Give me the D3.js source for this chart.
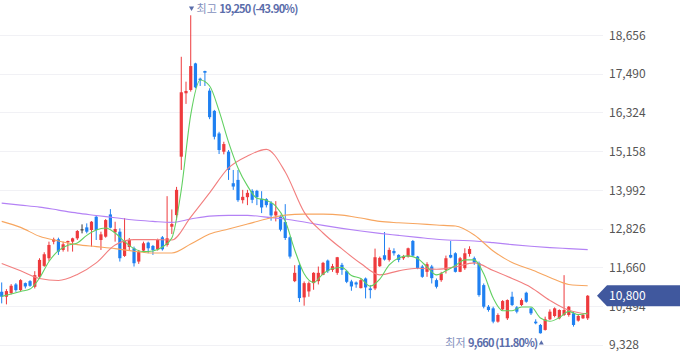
<!DOCTYPE html>
<html><head><meta charset="utf-8">
<script src="https://cdn.jsdelivr.net/npm/d3@7"></script>
<style>html,body{margin:0;padding:0;background:#fff;overflow:hidden}svg{display:block}</style>
</head><body><svg id="c" width="680" height="358"></svg>
<script>
// ---- data (daily candles, oldest -> newest) ----
const opens = [10920,10770,10880,11140,10970,11180,11240,11070,11370,11700,
11930,12430,12500,12180,12410,12430,12530,12800,12860,12780,
13180,12480,12580,13250,12710,12730,12000,12270,12230,11830,
12160,12400,12300,12200,12560,12330,12880,13230,14990,16900,
17000,17800,17340,17570,16980,16370,15690,15140,15140,14190,
14290,13680,13770,13960,13960,13720,13710,13590,13220,13190,
13020,12560,11240,11720,10750,10930,11180,11240,11430,11860,
11580,11490,11730,11540,11230,11200,11030,11320,11020,11020,
11690,12020,11880,12150,12030,11930,11980,12450,11980,11680,
11520,11680,11270,11270,11580,12030,12080,11520,11630,12060,
11930,11780,11120,10470,10420,10020,10390,10120,10770,10450,
10520,10890,10420,10020,9920,9770,10090,10190,10120,10220,
10220,10270,10050,10120,10120];
const highs = [11200,11000,11150,11180,11300,11200,11270,11540,11930,12110,
12430,12550,12550,12430,12460,12550,12780,12950,12980,13050,
13230,12730,13110,13410,13030,12830,13140,12540,12280,12180,
12430,12430,12330,12520,12600,13800,13400,14080,18000,17250,
19250,17820,17370,17580,17050,16400,15740,15440,15190,14590,
14590,13990,13990,14010,13990,13950,13740,13650,13650,13240,
13560,12590,11720,11780,11230,11230,11510,11680,11820,11890,
11760,11970,11790,11580,11280,11230,11320,11350,11120,12220,
11980,12720,12250,12230,12050,12030,12250,12480,12000,11730,
11810,11730,11320,11520,12010,12450,12110,11970,12230,12290,
11980,11830,11170,10520,10470,10270,10670,10690,10920,10490,
10720,10920,10450,10090,9950,10170,10390,10450,10390,11420,
10490,10320,10220,10250,10820];
const lows = [10570,10540,10840,10920,10940,11020,11070,11020,11320,11670,
11850,12350,12030,12130,12130,12130,12480,12680,12680,12280,
12480,12180,12550,12830,12430,11830,11970,12180,11680,11760,
12120,12080,12030,12160,12160,12280,12660,13080,14590,16580,
16950,17050,17120,17120,16120,15510,15070,15060,14290,13990,
13630,13580,13530,13590,13530,13290,13460,13060,13040,12740,
12480,11920,11210,10610,10500,10770,10980,11140,11420,11490,
11520,11430,11430,11180,10950,11040,11020,10720,10720,10970,
11670,11860,11830,12010,11810,11880,11950,11980,11600,11340,
11370,11170,11020,11220,11470,11930,11500,11510,11580,11980,
11730,10770,10420,10320,9970,9990,10370,10070,10490,10270,
10490,10590,10220,9940,9660,9750,10070,10150,10090,10190,
10170,9870,10020,10100,10070];
const closes = [10770,10940,11100,10970,11270,11080,11100,11420,11880,12050,
12330,12500,12130,12350,12450,12530,12750,12800,12730,13030,
12780,12650,13080,12850,12810,11930,12450,12480,11780,12130,
12380,12230,12180,12480,12200,12530,12960,13990,16930,16970,
17720,17080,17300,17520,16180,15590,15190,15370,14590,14090,
13680,13780,13900,13690,13770,13460,13530,13220,13340,12790,
12540,11980,11490,10730,11180,11180,11490,11490,11790,11540,
11690,11960,11580,11220,11080,11140,11270,11050,10970,11960,
11940,11890,12180,12080,11880,11980,12230,12010,11630,11370,
11750,11330,11070,11470,11930,11950,11520,11930,12080,12210,
11800,10820,10470,10370,10020,10220,10640,10670,10520,10320,
10670,10620,10270,9970,9670,10090,10320,10420,10370,10370,
10470,9920,10190,10220,10800];

// moving averages (ma5 every 2 sessions, others every 4)
const ma5Step = 2;
const ma5 = [10780,10850,10930,11000,11330,11830,12160,12320,12390,12620,
12780,12840,12690,12430,12220,12130,12150,12270,12540,13990,
16250,17300,17120,16370,15430,14650,14110,13740,13680,13500,
13050,12180,11460,11200,11460,11620,11650,11410,11320,11090,
11300,11730,11940,12000,11920,11670,11430,11550,11710,11880,
11880,11460,10730,10350,10350,10460,10460,10130,10030,10140,
10330,10230,10280];
const maStep = 4;
const ma20 = [11770,11550,11320,11260,11440,11790,12330,12490,12490,12480,
13170,13900,14650,15010,15210,14530,13320,12690,12210,11770,
11430,11550,11630,11600,11670,11790,11560,11320,11050,10660,
10360,10250];
const ma60 = [13040,12860,12590,12450,12340,12280,12220,12140,12090,12090,
12360,12660,12810,12960,13110,13230,13260,13260,13230,13140,
13040,13000,12970,12930,12900,12630,12150,11800,11590,11350,
11140,11100];
const ma120 = [13590,13530,13470,13380,13290,13220,13150,13080,13040,13010,
13110,13200,13220,13220,13170,13110,13020,12920,12830,12750,
12680,12620,12560,12500,12470,12450,12400,12340,12290,12250,
12220,12190];

const yTicks = [9328,10494,11660,12826,13992,15158,16324,17490,18656];
const lastPrice = 10800;
const highIdx = 40, highLabel = "19,250 (-43.90%)", highWord = "최고";
const lowIdx = 114, lowLabel = "9,660 (11.80%)", lowWord = "최저";

// ---- drawing ----
const svg = d3.select("#c");
const FONT = "'Noto Sans CJK KR','Noto Sans',sans-serif";
const idx = d3.range(closes.length);
const x = d3.scalePoint().domain(idx).range([1.7, 587.7]);
const y = d3.scaleLinear().domain([9328, 18656]).range([344.6, 35]);

const RED = "#ee3a3d", BLUE = "#1f80f1";

// grid
svg.append("g").selectAll("line").data(yTicks).join("line")
  .attr("x1", 0).attr("x2", 603)
  .attr("y1", d => Math.round(y(d)) + 0.5).attr("y2", d => Math.round(y(d)) + 0.5)
  .attr("stroke", "#f1f1f5").attr("stroke-width", 1);

// axis labels
const yAxis = d3.axisRight(y).tickValues(yTicks).tickSize(0).tickPadding(0)
  .tickFormat(d3.format(","));
const ag = svg.append("g").attr("transform", "translate(609,0)").call(yAxis);
ag.select(".domain").remove();
ag.selectAll("text").attr("font-family", FONT).attr("font-size", 12)
  .attr("fill", "#555").attr("dy", "0.35em");

// candles
const cg = svg.append("g");
const colorOf = i => closes[i] > opens[i] ? RED : (closes[i] < opens[i] ? BLUE : "#333");
cg.selectAll("line").data(idx).join("line")
  .attr("x1", i => x(i)).attr("x2", i => x(i))
  .attr("y1", i => y(highs[i])).attr("y2", i => y(lows[i]))
  .attr("stroke", colorOf).attr("stroke-width", 1);
const bw = 3.2;
cg.selectAll("rect").data(idx).join("rect")
  .attr("x", i => x(i) - bw / 2).attr("width", bw)
  .attr("y", i => y(Math.max(opens[i], closes[i])))
  .attr("height", i => Math.max(1, Math.abs(y(opens[i]) - y(closes[i]))))
  .attr("fill", colorOf);

// moving averages
function maLine(vals, step, color) {
  const line = d3.line().x((d, k) => x(k * step)).y(d => y(d)).curve(d3.curveMonotoneX);
  svg.append("path").attr("d", line(vals)).attr("fill", "none")
    .attr("stroke", color).attr("stroke-width", 1.1).attr("stroke-linejoin", "round");
}
maLine(ma120, maStep, "#b482f5");
maLine(ma60, maStep, "#f7a660");
maLine(ma20, maStep, "#f27f7f");
maLine(ma5, ma5Step, "#62d062");

// high annotation
const hx = x(highIdx) + 0.8;
svg.append("path").attr("d", `M${hx - 2.6},6.6 L${hx + 2.6},6.6 L${hx},11 Z`).attr("fill", "#5a6daa");
const ht = svg.append("text").attr("x", hx + 5).attr("y", 13)
  .attr("font-family", FONT).attr("font-size", 11);
ht.append("tspan").attr("fill", "#8390bd").text(highWord + " ");
ht.append("tspan").attr("fill", "#5a6daa").attr("font-weight", "bold").attr("letter-spacing", "-0.8").text(highLabel);

// low annotation
const lx = x(lowIdx) + 0.9;
svg.append("path").attr("d", `M${lx - 2.4},344.6 L${lx + 2.4},344.6 L${lx},340.3 Z`).attr("fill", "#5a6daa");
const lt = svg.append("text").attr("x", lx - 4).attr("y", 346.5).attr("text-anchor", "end")
  .attr("font-family", FONT).attr("font-size", 11);
lt.append("tspan").attr("fill", "#8390bd").text(lowWord + " ");
lt.append("tspan").attr("fill", "#5a6daa").attr("font-weight", "bold").attr("letter-spacing", "-0.8").text(lowLabel);

// last price tag
const py = y(lastPrice);
svg.append("path")
  .attr("d", `M597,${py} L607,${py - 10.5} L680,${py - 10.5} L680,${py + 10.5} L607,${py + 10.5} Z`)
  .attr("fill", "#40589e");
svg.append("text").attr("x", 609).attr("y", py).attr("dy", "0.35em")
  .attr("font-family", FONT).attr("font-size", 12).attr("fill", "#fff")
  .text(d3.format(",")(lastPrice));
</script></body></html>
